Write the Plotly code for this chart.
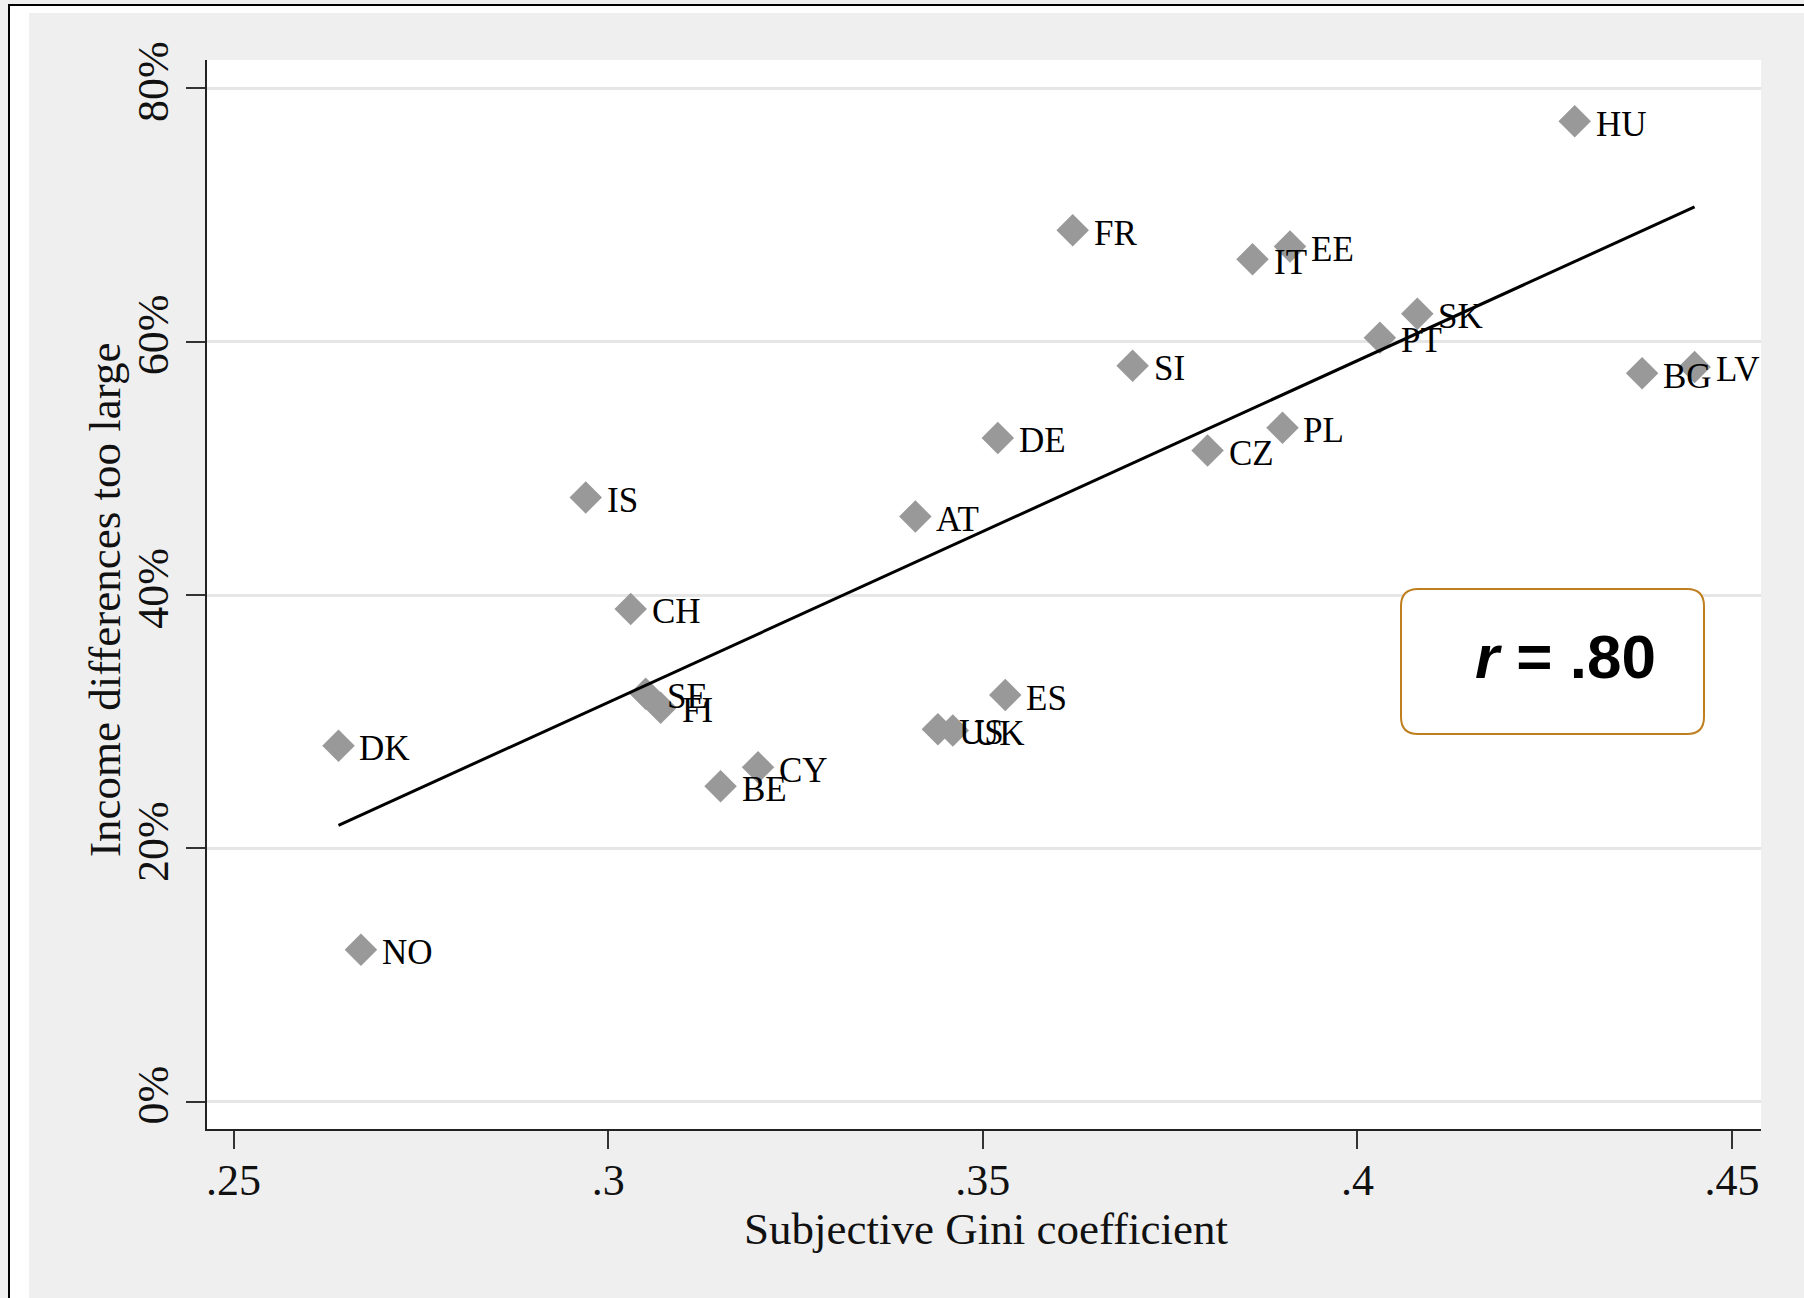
import numpy as np
import plotly.graph_objects as go

# ---- data ----
countries = ["HU", "FR", "IT", "EE", "SK", "PT", "SI", "BG", "LV", "DE", "PL", "CZ",
             "IS", "AT", "CH", "SE", "FI", "ES", "US", "UK", "CY", "BE", "DK", "NO"]
gini = [0.429, 0.362, 0.386, 0.391, 0.408, 0.403, 0.370, 0.438, 0.445, 0.352, 0.390, 0.380,
        0.297, 0.341, 0.303, 0.305, 0.307, 0.353, 0.344, 0.346, 0.320, 0.315, 0.264, 0.267]
too_large = [77.4, 68.8, 66.5, 67.5, 62.2, 60.3, 58.1, 57.5, 58.0, 52.4, 53.2, 51.4,
             47.7, 46.2, 38.9, 32.2, 31.1, 32.1, 29.4, 29.3, 26.4, 24.9, 28.1, 12.0]
x_ticks = [0.25, 0.30, 0.35, 0.40, 0.45]
x_ticktext = [".25", ".3", ".35", ".4", ".45"]
y_ticks = [0, 20, 40, 60, 80]
y_ticktext = ["0%", "20%", "40%", "60%", "80%"]
x_title = "Subjective Gini coefficient"
y_title = "Income differences too large"
r_text = "<b><i>r</i> = .80</b>"

# ---- layout geometry (pixels) ----
W, H = 1804, 1298
L, R, T, B = 207, 1761, 60, 1129


def px(x):
    return (x - L) / (R - L)


def py(y):
    return (B - y) / (B - T)


# regression line
slope, intercept = np.polyfit(gini, too_large, 1)
xl = np.array([min(gini), max(gini)])
yl = intercept + slope * xl

serif = "Liberation Serif, Times New Roman, serif"
txt_col = "#111111"

fig = go.Figure()
fig.add_trace(go.Scatter(
    x=gini, y=too_large, mode="markers",
    marker=dict(symbol="diamond", size=25, color="#999999", line=dict(width=0)),
    hoverinfo="text", text=countries, showlegend=False))
fig.add_trace(go.Scatter(
    x=xl, y=yl, mode="lines", line=dict(color="black", width=3),
    hoverinfo="skip", showlegend=False))

annotations = []
for c, xv, yv in zip(countries, gini, too_large):
    annotations.append(dict(
        x=xv, y=yv, xref="x", yref="y", text=c, showarrow=False,
        xanchor="left", yanchor="middle", xshift=19, yshift=-3,
        font=dict(family=serif, size=35, color="black")))

# axis titles
annotations.append(dict(
    x=px(986), y=py(1229), xref="paper", yref="paper", text=x_title, showarrow=False,
    xanchor="center", yanchor="middle", borderpad=0,
    font=dict(family=serif, size=45, color=txt_col)))
annotations.append(dict(
    x=px(105), y=py(600), xref="paper", yref="paper", text=y_title, showarrow=False,
    textangle=-90, xanchor="center", yanchor="middle",
    font=dict(family=serif, size=45, color=txt_col)))

# r box text
annotations.append(dict(
    x=px(1565), y=py(656), xref="paper", yref="paper", text=r_text,
    showarrow=False, xanchor="center", yanchor="middle",
    font=dict(family="Liberation Sans, Arial, sans-serif", size=62, color="black")))

# rounded rectangle path for r box
bx0, bx1, by0, by1, rad = 1401, 1704, 589, 734, 17
path = (f"M {px(bx0 + rad)} {py(by0)} L {px(bx1 - rad)} {py(by0)} "
        f"Q {px(bx1)} {py(by0)} {px(bx1)} {py(by0 + rad)} "
        f"L {px(bx1)} {py(by1 - rad)} Q {px(bx1)} {py(by1)} {px(bx1 - rad)} {py(by1)} "
        f"L {px(bx0 + rad)} {py(by1)} Q {px(bx0)} {py(by1)} {px(bx0)} {py(by1 - rad)} "
        f"L {px(bx0)} {py(by0 + rad)} Q {px(bx0)} {py(by0)} {px(bx0 + rad)} {py(by0)} Z")

shapes = [
    # white band inside outer frame (left and top)
    dict(type="rect", xref="paper", yref="paper", x0=px(9), x1=px(29), y0=py(H), y1=py(5),
         fillcolor="white", line=dict(width=0), layer="above"),
    dict(type="rect", xref="paper", yref="paper", x0=px(9), x1=px(W), y0=py(13), y1=py(5),
         fillcolor="white", line=dict(width=0), layer="above"),
    # black outer frame lines
    dict(type="line", xref="paper", yref="paper", x0=px(8), x1=px(W), y0=py(5), y1=py(5),
         line=dict(color="black", width=2), layer="above"),
    dict(type="line", xref="paper", yref="paper", x0=px(9), x1=px(9), y0=py(4), y1=py(H),
         line=dict(color="black", width=2), layer="above"),
    # r box
    dict(type="path", xref="paper", yref="paper", path=path, fillcolor="white",
         line=dict(color="#BF7F1F", width=2), layer="above"),
]

fig.update_layout(
    width=W, height=H,
    margin=dict(l=L, r=W - R, t=T, b=H - B, autoexpand=False),
    paper_bgcolor="#efefef", plot_bgcolor="white",
    showlegend=False,
    annotations=annotations,
    shapes=shapes,
    font=dict(family=serif, size=44, color=txt_col),
)
fig.update_xaxes(
    range=[0.24645, 0.45387], tickvals=x_ticks, ticktext=x_ticktext,
    ticks="outside", ticklen=18, tickwidth=2, tickcolor="#333333",
    showline=True, linecolor="#222222", linewidth=2, showgrid=False, zeroline=False,
    tickfont=dict(family=serif, size=44, color=txt_col), ticklabelstandoff=-7,
    automargin=False,
)
fig.update_yaxes(
    range=[-2.15, 82.23], tickvals=y_ticks, ticktext=y_ticktext, tickangle=-90,
    ticks="outside", ticklen=19, tickwidth=2, tickcolor="#333333",
    showline=True, linecolor="#222222", linewidth=2,
    showgrid=True, gridcolor="#e6e6e6", gridwidth=3, zeroline=False,
    tickfont=dict(family=serif, size=44, color=txt_col),
    automargin=False,
)

fig.write_html("out.html", config={"displayModeBar": False},
               post_script="document.body.style.margin='0';document.body.style.background='#efefef';")
